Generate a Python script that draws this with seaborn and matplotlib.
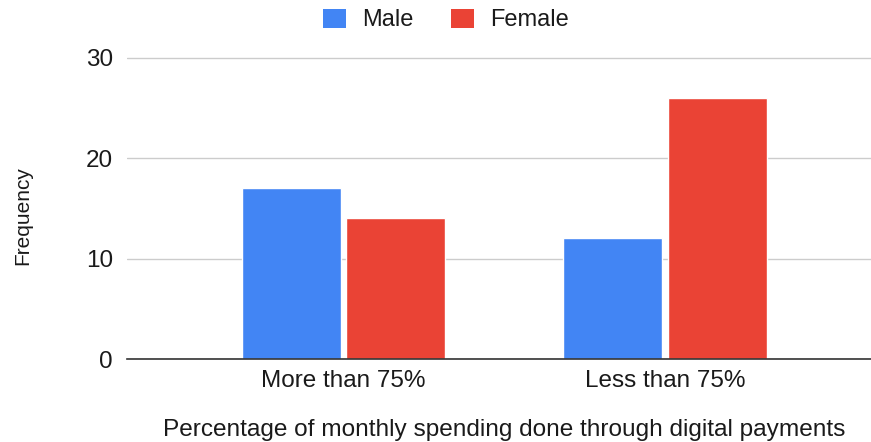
import matplotlib
matplotlib.use("Agg")
import matplotlib.pyplot as plt
from matplotlib.patches import Patch
import seaborn as sns
import pandas as pd

categories = ["More than 75%", "Less than 75%"]
genders = ["Male", "Female"]
male_counts = [17, 12]
female_counts = [14, 26]
colors = {"Male": "#4285F4", "Female": "#EA4335"}

df = pd.DataFrame({
    "Spending": categories * 2,
    "Gender": ["Male"] * len(categories) + ["Female"] * len(categories),
    "Frequency": male_counts + female_counts,
})

sns.set_theme(style="white")
plt.rcParams["font.family"] = ["Liberation Sans", "DejaVu Sans"]

W, H = 871, 442
fig = plt.figure(figsize=(W / 100, H / 100), dpi=100)
left, right = 127, 871
bottom, top = 359, 54.5
ax = fig.add_axes([left / W, 1 - bottom / H, (right - left) / W, (bottom - top) / H])

sns.barplot(data=df, x="Spending", y="Frequency", hue="Gender",
            order=categories, hue_order=genders, palette=colors,
            width=0.65, gap=0.05, saturation=1, ax=ax, legend=False)

ax.set_xlim(-0.673, 1.641)
ax.set_ylim(0, 30.3)
ax.set_yticks([0, 10, 20, 30])
ax.yaxis.grid(True, color="#cccccc", linewidth=1)
ax.set_axisbelow(True)
for s in ["top", "right", "left"]:
    ax.spines[s].set_visible(False)
ax.spines["bottom"].set_color("#333333")
ax.spines["bottom"].set_linewidth(1.2)
ax.tick_params(axis="both", length=0, labelsize=17.5, colors="#1a1a1a")
ax.tick_params(axis="y", pad=10)
ax.tick_params(axis="x", pad=8)

ax.set_xlabel("Percentage of monthly spending done through digital payments",
              fontsize=17.6, color="#1a1a1a")
ax.xaxis.set_label_coords((504 - left) / (right - left), (bottom - 430) / (bottom - top))
ax.xaxis.label.set_va("center")
ax.set_ylabel("Frequency", fontsize=15, color="#1a1a1a")
ax.yaxis.set_label_coords(-(left - 23) / (right - left), (bottom - 216) / (bottom - top))
ax.yaxis.label.set_va("center")

handles = [Patch(facecolor=colors[g], edgecolor="none") for g in genders]
fig.legend(handles, genders, loc="center", bbox_to_anchor=(446 / W, 1 - 20 / H),
           ncol=2, frameon=False, fontsize=17, handlelength=0.95, handleheight=0.85,
           handletextpad=0.7, columnspacing=1.6, labelcolor="#1a1a1a")

fig.savefig("out.png", dpi=100)
